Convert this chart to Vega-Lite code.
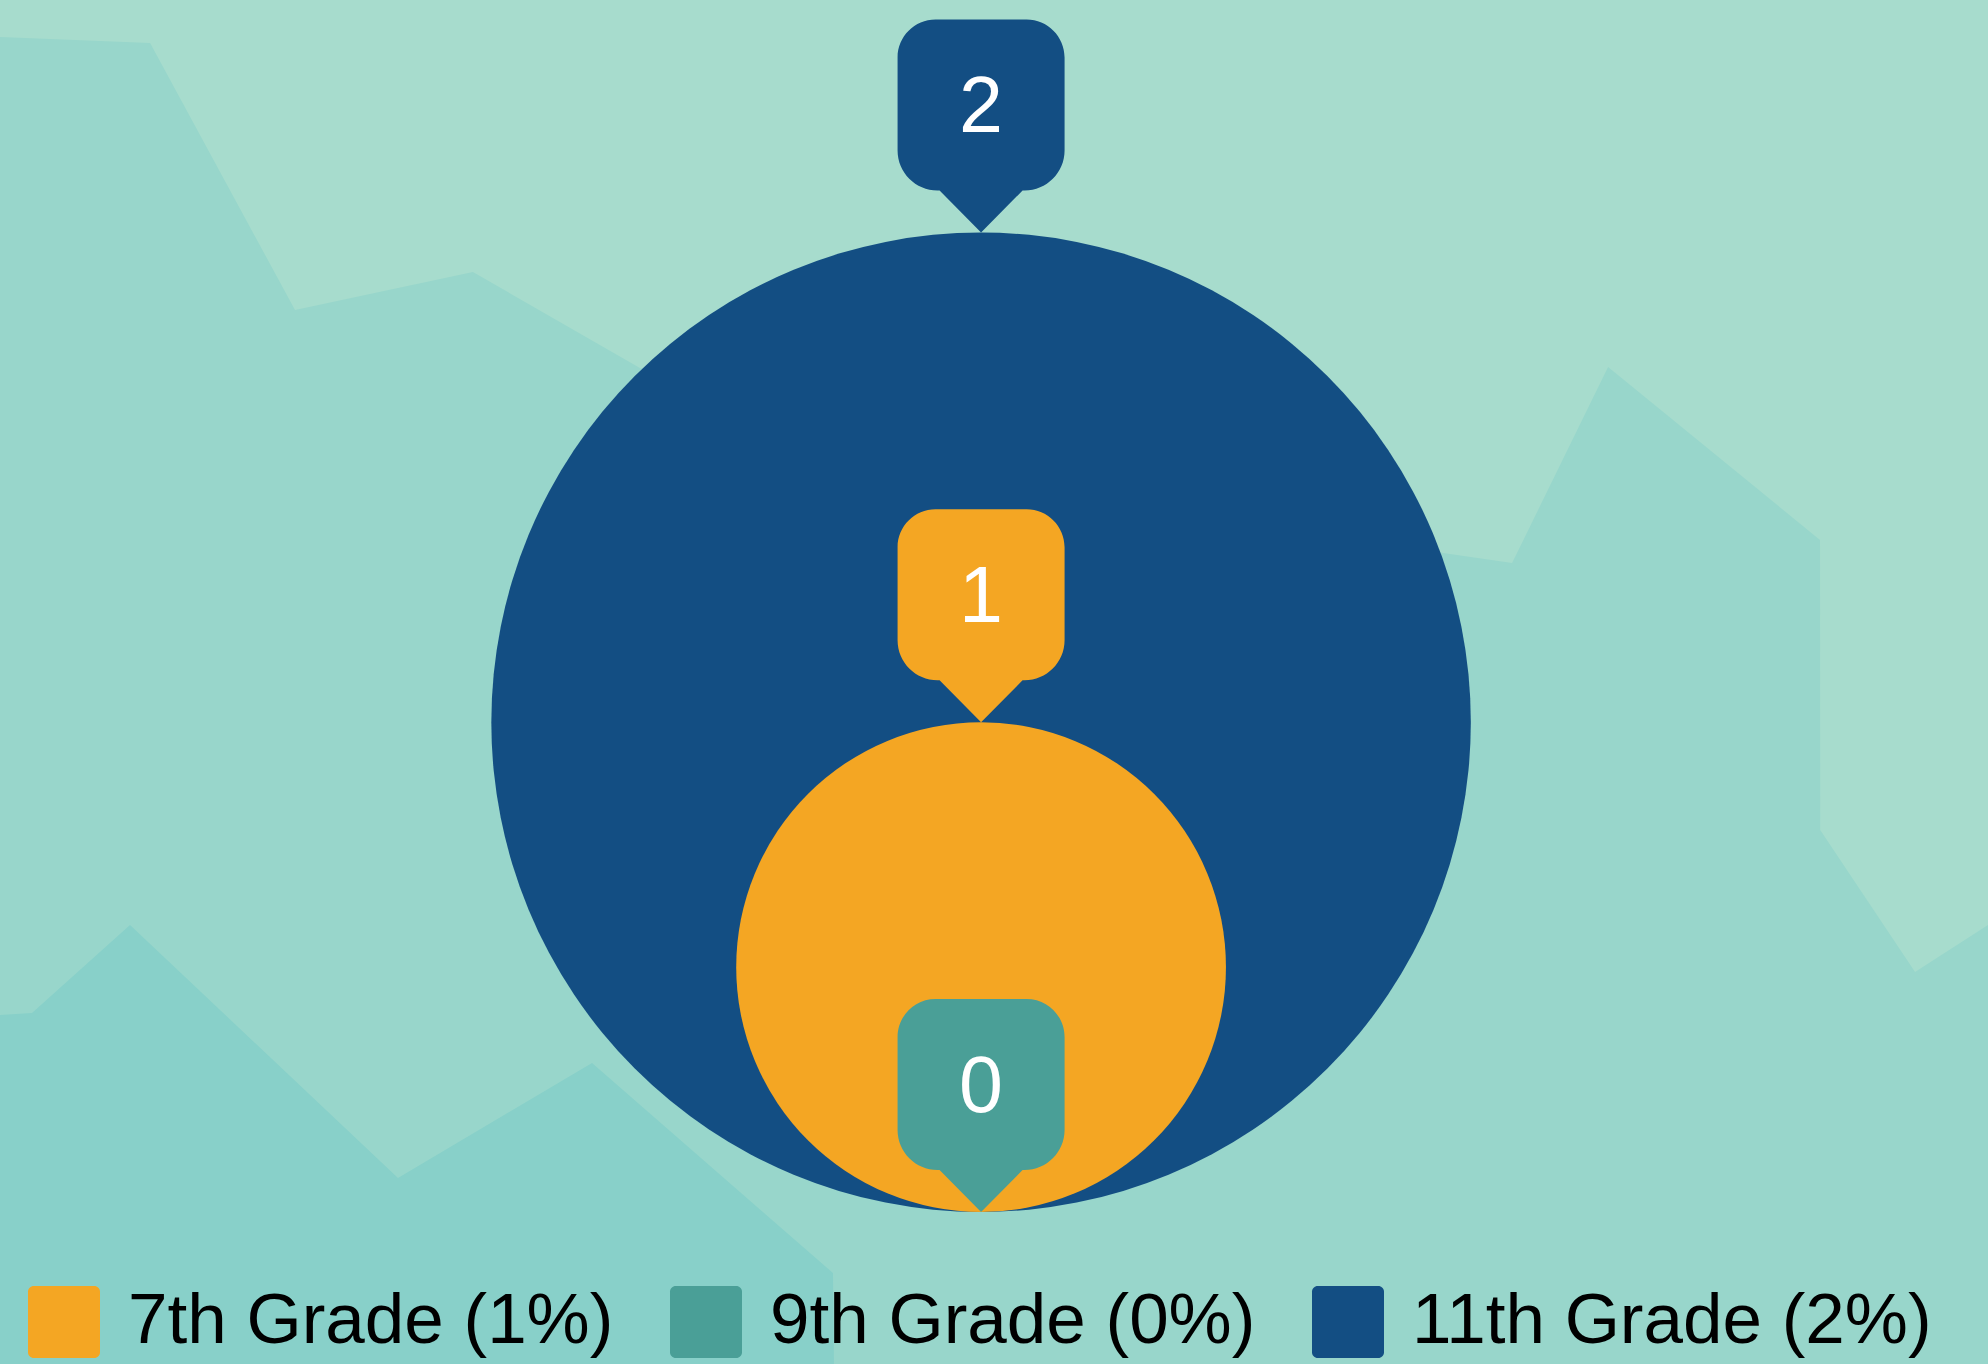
{
  "$schema": "https://vega.github.io/schema/vega-lite/v6.json",
  "width": 1988,
  "height": 1364,
  "autosize": {"type": "none"},
  "padding": 0,
  "background": "#a7dccd",
  "config": {"view": {"stroke": null}, "font": "Liberation Sans"},
  "datasets": {
    "mid": [
      {"x": 0, "h": 97.29},
      {"x": 7.55, "h": 96.85},
      {"x": 14.84, "h": 77.27},
      {"x": 23.79, "h": 80.06},
      {"x": 32.19, "h": 73.02},
      {"x": 72.59, "h": 59.46},
      {"x": 76.06, "h": 58.72},
      {"x": 80.89, "h": 73.09},
      {"x": 91.55, "h": 60.41},
      {"x": 91.56, "h": 39.15},
      {"x": 96.33, "h": 28.74},
      {"x": 100, "h": 32.18}
    ],
    "dark": [
      {"x": 0, "h": 25.59},
      {"x": 1.61, "h": 25.73},
      {"x": 6.54, "h": 32.18},
      {"x": 20.02, "h": 13.64},
      {"x": 29.78, "h": 22.07},
      {"x": 41.9, "h": 6.67},
      {"x": 41.95, "h": 0}
    ],
    "grades": [
      {"grade": "11th Grade", "label": "11th Grade (2%)", "count": 2},
      {"grade": "7th Grade", "label": "7th Grade (1%)", "count": 1},
      {"grade": "9th Grade", "label": "9th Grade (0%)", "count": 0}
    ]
  },
  "layer": [
    {
      "data": {"name": "mid"},
      "mark": {"type": "area", "color": "#98d6cb", "interpolate": "linear", "opacity": 1},
      "encoding": {
        "x": {"field": "x", "type": "quantitative", "scale": {"domain": [0, 100], "nice": false, "zero": false}, "axis": null},
        "y": {"field": "h", "type": "quantitative", "scale": {"domain": [0, 100], "nice": false}, "axis": null}
      }
    },
    {
      "data": {"name": "dark"},
      "mark": {"type": "area", "color": "#88d0c9", "interpolate": "linear", "opacity": 1},
      "encoding": {
        "x": {"field": "x", "type": "quantitative", "scale": {"domain": [0, 100], "nice": false, "zero": false}, "axis": null},
        "y": {"field": "h", "type": "quantitative", "scale": {"domain": [0, 100], "nice": false}, "axis": null}
      }
    },
    {
      "data": {"name": "grades"},
      "layer": [
        {
          "mark": {"type": "circle", "opacity": 1},
          "encoding": {
            "x": {"datum": "all", "type": "nominal", "scale": {"type": "point", "padding": 0.5, "align": 0.4935}, "axis": null},
            "y": {"field": "count", "type": "quantitative", "scale": {"domain": [-0.6207, 4.9495], "nice": false, "zero": false}, "axis": null},
            "size": {"field": "count", "type": "quantitative", "scale": {"type": "pow", "exponent": 2, "domain": [0, 2], "range": [0, 959420]}, "legend": null},
            "color": {
              "field": "label",
              "type": "nominal",
              "scale": {"domain": ["7th Grade (1%)", "9th Grade (0%)", "11th Grade (2%)"], "range": ["#f4a623", "#4a9f97", "#134e83"]},
              "legend": {
                "title": null,
                "orient": "none",
                "legendX": 28,
                "legendY": 1286,
                "direction": "horizontal",
                "symbolType": "M-1,-0.84 A0.16,0.16 0 0 1 -0.84,-1 L0.84,-1 A0.16,0.16 0 0 1 1,-0.84 L1,0.84 A0.16,0.16 0 0 1 0.84,1 L-0.84,1 A0.16,0.16 0 0 1 -1,0.84 Z",
                "symbolSize": 5184,
                "symbolStrokeWidth": 0,
                "symbolOpacity": 1,
                "labelFont": "Liberation Sans",
                "labelFontSize": 71,
                "labelColor": "#000000",
                "labelLimit": 2000,
                "labelOffset": 28,
                "columnPadding": 56
              }
            }
          }
        },
        {
          "mark": {
            "type": "point",
            "shape": "M0,0 L-0.415,-0.42 L-0.435,-0.42 A0.4,0.4 0 0 1 -0.835,-0.82 L-0.835,-1.75 A0.38,0.38 0 0 1 -0.455,-2.13 L0.455,-2.13 A0.38,0.38 0 0 1 0.835,-1.75 L0.835,-0.82 A0.4,0.4 0 0 1 0.435,-0.42 L0.415,-0.42 Z",
            "size": 40000,
            "filled": true,
            "opacity": 1,
            "strokeWidth": 0
          },
          "encoding": {
            "x": {"datum": "all", "type": "nominal", "axis": null},
            "y": {"field": "count", "type": "quantitative", "scale": {"domain": [-0.31036, 2.4747], "nice": false, "zero": false}, "axis": null},
            "color": {"field": "label", "type": "nominal"}
          }
        },
        {
          "mark": {"type": "text", "color": "#ffffff", "fontSize": 79, "dy": -100, "baseline": "alphabetic", "align": "center", "font": "Liberation Sans"},
          "encoding": {
            "x": {"datum": "all", "type": "nominal", "axis": null},
            "y": {"field": "count", "type": "quantitative", "scale": {"domain": [-0.31036, 2.4747], "nice": false, "zero": false}, "axis": null},
            "text": {"field": "count", "type": "quantitative"}
          }
        }
      ],
      "resolve": {"scale": {"y": "independent"}}
    }
  ],
  "resolve": {"scale": {"x": "independent", "y": "independent"}}
}
